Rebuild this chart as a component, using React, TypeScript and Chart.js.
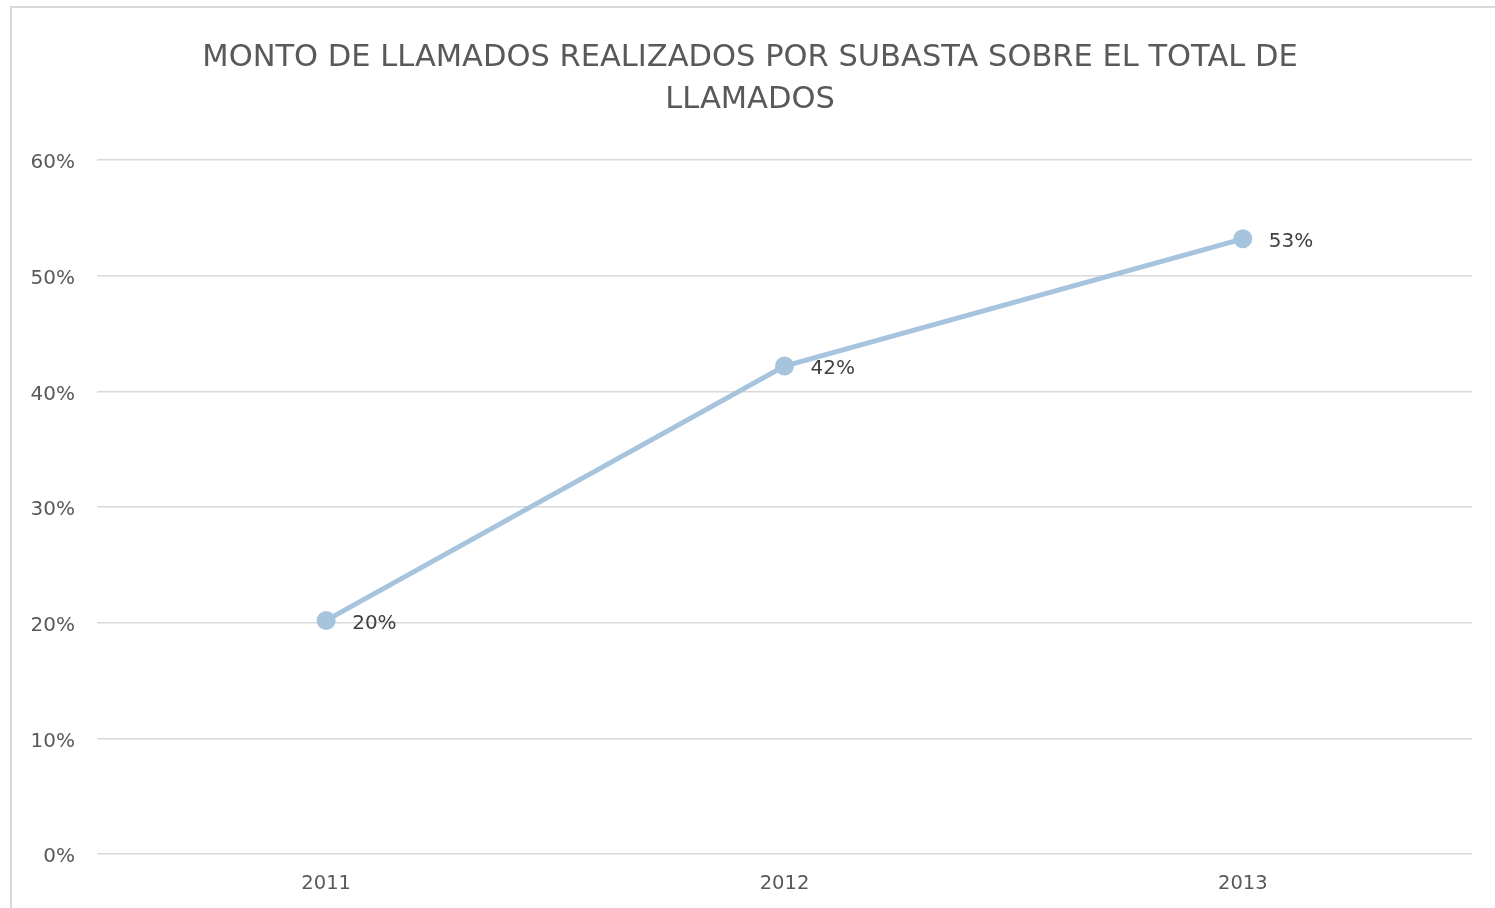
import React, { useEffect, useRef } from "react";
import { Chart, registerables } from "chart.js";

Chart.register(...registerables);

const categories = ["2011", "2012", "2013"];
const values = [20.2, 42.2, 53.2];
const valueLabels = ["20%", "42%", "53%"];
const titleLines = ["MONTO DE LLAMADOS REALIZADOS POR SUBASTA SOBRE EL TOTAL DE", "LLAMADOS"];

const FONT = "'DejaVu Sans', sans-serif";

const labelPlugin = {
  id: "pointLabels",
  afterDatasetsDraw(chart: any) {
    const ctx = chart.ctx;
    const meta = chart.getDatasetMeta(0);
    ctx.save();
    ctx.font = `20px ${FONT}`;
    ctx.fillStyle = "#404040";
    ctx.textAlign = "left";
    ctx.textBaseline = "middle";
    meta.data.forEach((pt: any, i: number) => {
      ctx.fillText(valueLabels[i], pt.x + 26, pt.y + 3);
    });
    ctx.restore();
  },
};

export default function App() {
  const ref = useRef<HTMLCanvasElement | null>(null);
  useEffect(() => {
    if (!ref.current) return;
    const chart = new Chart(ref.current, {
      type: "line",
      data: {
        labels: categories,
        datasets: [
          {
            data: values,
            borderColor: "#A6C4DD",
            backgroundColor: "#A6C4DD",
            borderWidth: 5,
            pointRadius: 7,
            pointBackgroundColor: "#A6C4DD",
            pointBorderColor: "#A6C4DD",
            tension: 0,
          },
        ],
      },
      options: {
        animation: false,
        responsive: false,
        maintainAspectRatio: false,
        layout: { padding: { top: 37, right: 23, left: 28, bottom: 0 } },
        plugins: {
          legend: { display: false },
          tooltip: { enabled: false },
          title: {
            display: true,
            text: titleLines,
            color: "#595959",
            font: { family: FONT, size: 30.5, weight: "normal", lineHeight: 1.38 },
            padding: { top: 0, bottom: 39 },
          },
        },
        scales: {
          x: {
            offset: true,
            grid: { display: false, drawTicks: false },
            border: { display: false },
            ticks: {
              color: "#595959",
              font: { family: FONT, size: 19.5 },
              padding: 18,
            },
            afterFit(scale: any) {
              scale.height = 54;
            },
          },
          y: {
            min: 0,
            max: 60,
            grid: { color: "#D9D9D9", lineWidth: 1.5, drawTicks: false },
            border: { display: false },
            ticks: {
              stepSize: 10,
              color: "#595959",
              font: { family: FONT, size: 20 },
              padding: 22,
              labelOffset: 3,
              callback: (v: any) => `${v}%`,
            },
            afterFit(scale: any) {
              scale.width = 69;
            },
          },
        },
      },
      plugins: [labelPlugin],
    });
    return () => chart.destroy();
  }, []);
  return (
    <div>
      <div
        style={{
          position: "fixed",
          left: 10,
          top: 6,
          width: 1500,
          height: 920,
          border: "2px solid #D9D9D9",
          boxSizing: "border-box",
          background: "#fff",
        }}
      />
      <canvas
        ref={ref}
        width={1495}
        height={908}
        style={{ position: "fixed", left: 0, top: 0, width: 1495, height: 908 }}
      />
    </div>
  );
}
